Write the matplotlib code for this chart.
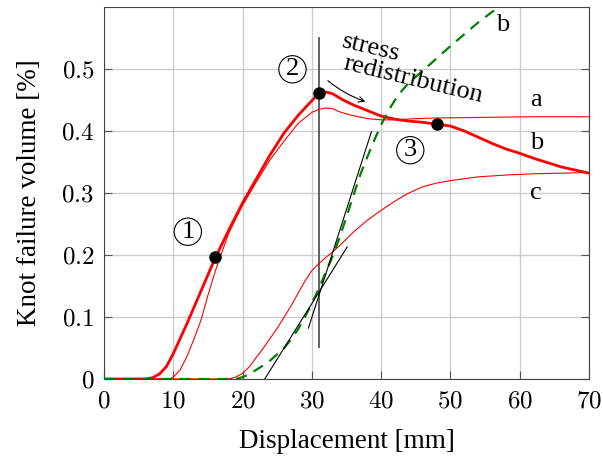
import matplotlib
matplotlib.use('Agg')
import matplotlib.pyplot as plt
from matplotlib.ticker import FuncFormatter

plt.rcParams['font.family'] = ['Liberation Serif', 'DejaVu Serif']
plt.rcParams['mathtext.fontset'] = 'cm'

# curve a (thin red)
a_x = [0, 9.5, 10, 11, 12, 13, 14, 15, 16, 17, 18, 19, 20, 22, 24, 26, 28, 30, 31, 32, 33, 34,
       35.5, 38, 40, 42, 45, 48, 55, 62, 70]
a_y = [0, 0, 0.003, 0.015, 0.037, 0.065, 0.095, 0.135, 0.172, 0.204, 0.235, 0.258, 0.28, 0.318,
       0.354, 0.384, 0.412, 0.43, 0.435, 0.437, 0.436, 0.431, 0.426, 0.42, 0.418, 0.418, 0.42,
       0.421, 0.422, 0.423, 0.423]

# curve b (thick red)
b_x = [0, 6, 7, 8, 9, 10, 12, 14, 16, 18, 20, 22, 24, 26, 28, 30, 31, 32, 33, 34.5, 36, 38, 40,
       42, 44, 46, 48, 50, 52, 54, 56, 58, 60, 62, 64, 66, 68, 70]
b_y = [0, 0, 0.002, 0.008, 0.02, 0.041, 0.09, 0.142, 0.194, 0.24, 0.284, 0.323, 0.362, 0.397,
       0.425, 0.449, 0.461, 0.463, 0.46, 0.45, 0.442, 0.433, 0.424, 0.419, 0.416, 0.414, 0.411,
       0.408, 0.4, 0.39, 0.38, 0.371, 0.364, 0.356, 0.349, 0.342, 0.337, 0.332]

# curve c (thin red)
c_x = [0, 18, 19, 20, 21, 22, 23, 24, 25, 26, 27, 28, 29, 30, 31, 32, 33, 34, 35, 36, 38, 40,
       42, 44, 46, 48, 50, 54, 58, 62, 70]
c_y = [0, 0, 0.003, 0.009, 0.02, 0.035, 0.05, 0.066, 0.082, 0.1, 0.118, 0.138, 0.158, 0.175,
       0.186, 0.196, 0.205, 0.215, 0.226, 0.237, 0.256, 0.272, 0.287, 0.3, 0.31, 0.316, 0.32,
       0.326, 0.329, 0.331, 0.333]

# curve b, second model (green dashed)
g_x = [0, 19, 20, 21, 22, 23, 24, 25, 26, 27, 28, 29, 30, 31, 32, 33, 34, 35, 36, 37, 38, 39,
       40, 41, 42, 43, 44, 46, 48, 50, 52, 54, 56, 58]
g_y = [0, 0, 0.003, 0.008, 0.015, 0.022, 0.03, 0.04, 0.05, 0.064, 0.08, 0.1, 0.122, 0.146,
       0.172, 0.198, 0.228, 0.262, 0.296, 0.33, 0.358, 0.385, 0.41, 0.432, 0.45, 0.465, 0.478,
       0.497, 0.517, 0.537, 0.556, 0.575, 0.592, 0.607]

# tangents and marked points
tan1_x, tan1_y = [23.2, 35.1], [0, 0.213]
tan2_x, tan2_y = [29.5, 38.6], [0.082, 0.399]
vline_x, vline_y = [31, 31], [0.052, 0.55]
pts_x = [16, 31, 48]
pts_y = [0.196, 0.461, 0.411]
marks = ['1', '2', '3']
marks_x = [12.1, 27.2, 44.2]
marks_y = [0.2375, 0.4995, 0.369]

fig = plt.figure(figsize=(6.03, 4.57), dpi=100)
ax = fig.add_axes([0.1725, 0.1707, 0.8043, 0.814])

ax.grid(True, color='#cccccc', lw=1)
ax.set_axisbelow(True)

ax.plot(vline_x, vline_y, color='#555555', lw=1.3)
ax.plot(a_x, a_y, color='red', lw=0.8)
ax.plot(c_x, c_y, color='red', lw=0.8)
ax.plot(b_x, b_y, color='red', lw=2)
ax.plot(g_x, g_y, color='#008000', lw=1.6, ls=(0, (5, 3.5)))
ax.plot(tan1_x, tan1_y, color='black', lw=0.8)
ax.plot(tan2_x, tan2_y, color='black', lw=0.8)
ax.plot(pts_x, pts_y, 'o', color='black', ms=8, zorder=5)

for m, mx, my in zip(marks, marks_x, marks_y):
    ax.text(mx, my, m, fontsize=19, ha='center', va='center',
            bbox=dict(boxstyle='circle,pad=0.1', fc='white', ec='black', lw=0.8))

ax.text(62.4, 0.45, 'a', fontsize=19, ha='center', va='center')
ax.text(62.4, 0.38, 'b', fontsize=19, ha='center', va='center')
ax.text(62.4, 0.30, 'c', fontsize=19, ha='center', va='center')
ax.text(57.5, 0.571, 'b', fontsize=19, ha='center', va='center')

ax.text(34.2, 0.535, 'stress', fontsize=19, rotation=-13.5, rotation_mode='anchor',
        ha='left', va='baseline')
ax.text(34.4, 0.50, 'redistribution', fontsize=19, rotation=-13.5, rotation_mode='anchor',
        ha='left', va='baseline')
ax.annotate('', xy=(38.1, 0.446), xytext=(32.0, 0.484),
            arrowprops=dict(arrowstyle='->', color='black', lw=0.8,
                            connectionstyle='arc3,rad=0.1'))

ax.set_xlim(0, 70)
ax.set_ylim(0, 0.6)
ax.set_xticks([0, 10, 20, 30, 40, 50, 60, 70])
ax.set_yticks([0, 0.1, 0.2, 0.3, 0.4, 0.5])
ax.xaxis.set_major_formatter(FuncFormatter(lambda v, p: f'${v:g}$'))
ax.yaxis.set_major_formatter(FuncFormatter(lambda v, p: f'${v:g}$'))
ax.tick_params(direction='in', length=6, color='#555555', labelsize=18, top=False, right=True)
ax.tick_params(axis='x', pad=8)
ax.tick_params(axis='y', pad=7)
for s in ax.spines.values():
    s.set_color('#444444')

ax.set_xlabel('Displacement [mm]', fontsize=19.5, labelpad=12)
ax.set_ylabel('Knot failure volume [%]', fontsize=19.5, labelpad=14)

fig.savefig('out.png', dpi=100)
